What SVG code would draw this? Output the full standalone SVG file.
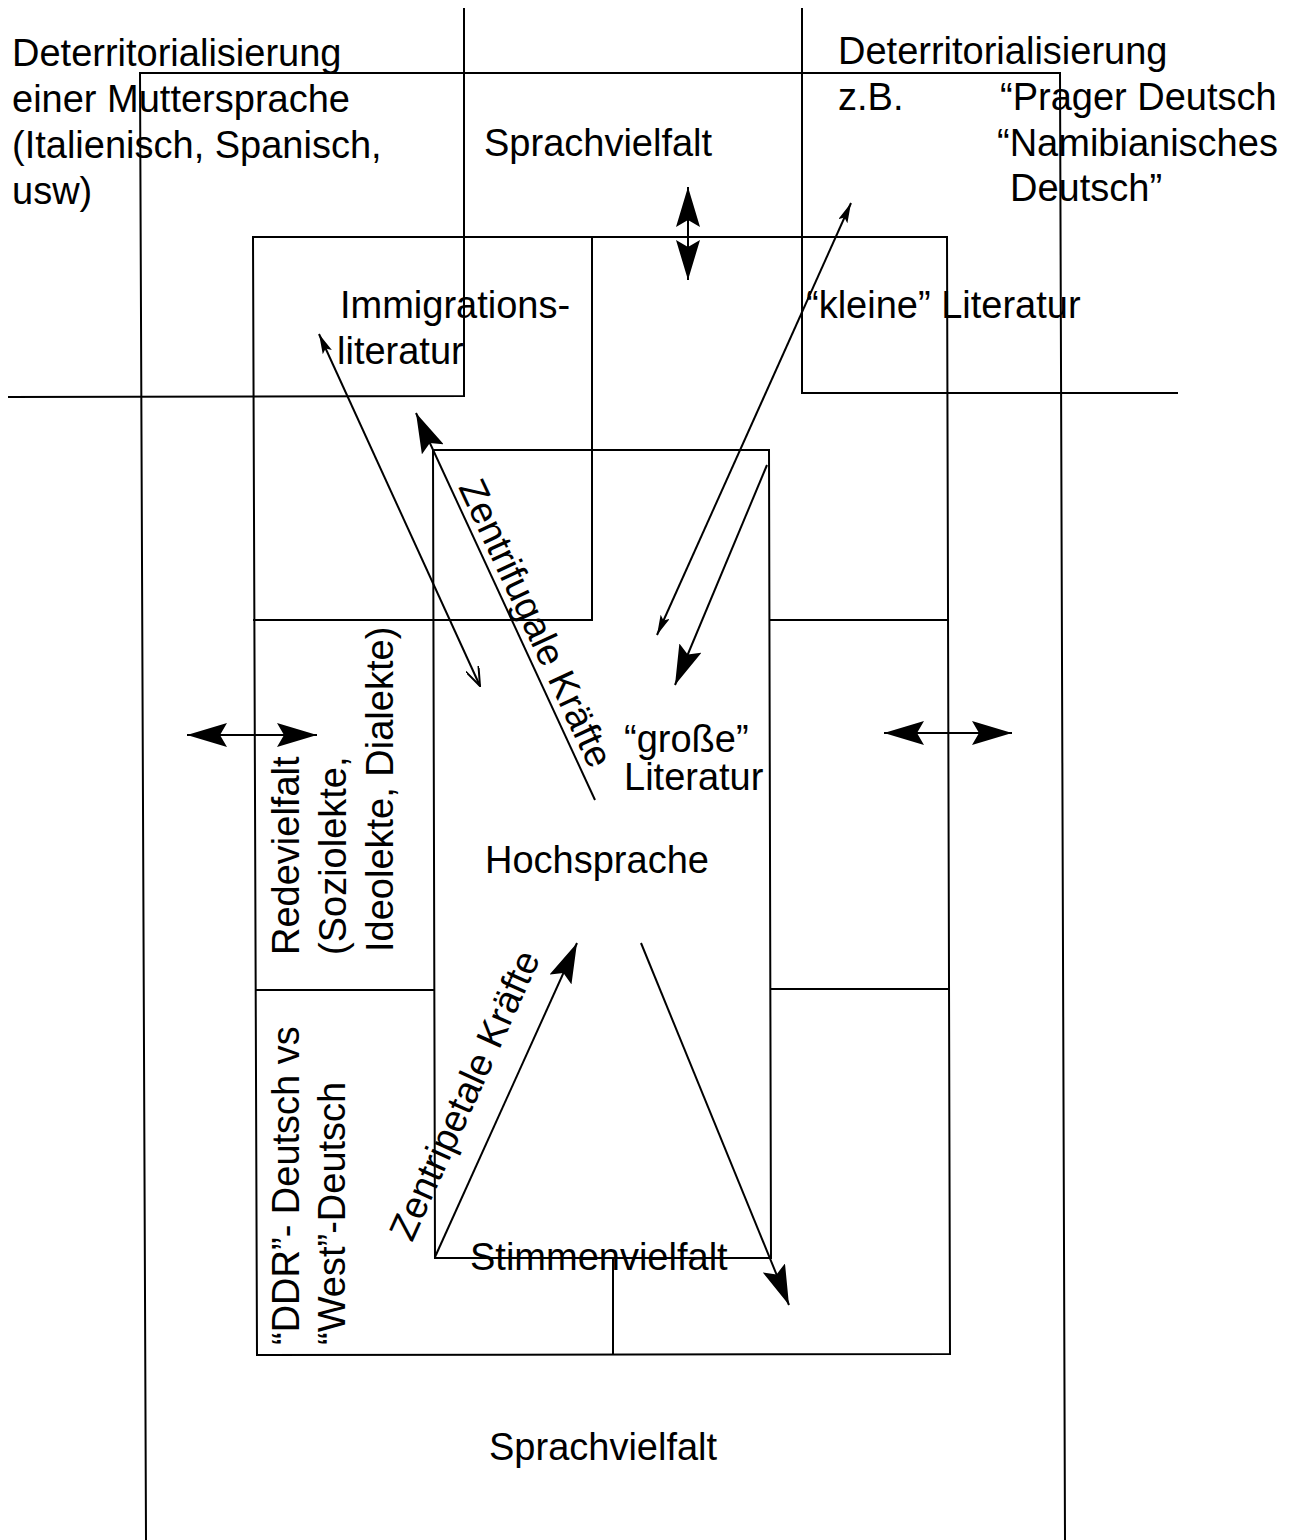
<svg xmlns="http://www.w3.org/2000/svg" width="1297" height="1540" viewBox="0 0 1297 1540">
<defs>
<style>
.ln{fill:none;stroke:#000;stroke-width:2}
.ar{fill:none;stroke:#000;stroke-width:2}
.t{font-family:"Liberation Sans",Arial,Helvetica,sans-serif;font-size:38px;fill:#000}
</style>
<marker id="big" viewBox="0 0 40 24" refX="40" refY="12" markerWidth="40" markerHeight="24" markerUnits="userSpaceOnUse" orient="auto-start-reverse"><path d="M40,12 L0,0 L7,12 L0,24 Z" fill="#000"/></marker>
<marker id="sm" viewBox="0 0 20 10" refX="20" refY="5" markerWidth="20" markerHeight="10" markerUnits="userSpaceOnUse" orient="auto-start-reverse"><path d="M20,5 L0,0 L4,5 L0,10 Z" fill="#000"/></marker>
<marker id="open" viewBox="0 0 20 14" refX="19" refY="7" markerWidth="20" markerHeight="14" markerUnits="userSpaceOnUse" orient="auto"><path d="M0,0 L19,7 L0,14" fill="none" stroke="#000" stroke-width="2"/></marker>
</defs>
<rect width="1297" height="1540" fill="#fff"/>
<g id="frames">
<path class="ln" d="M146,1540 L140,73 L1060,73 L1065,1540"/>
<path class="ln" d="M464,8 L464,396 L8,397"/>
<path class="ln" d="M802,8 L802,393 L1178,393"/>
<path class="ln" d="M253,237 L947,237 L950,1354 L257,1355 Z"/>
<path class="ln" d="M592,237 L592,620 L253,620"/>
<path class="ln" d="M770,620 L948,620"/>
<path class="ln" d="M256,990 L434,990"/>
<path class="ln" d="M771,989 L949,989"/>
<path class="ln" d="M433,450 L769,450 L771,1258 L435,1258 Z"/>
<path class="ln" d="M613,1258 L613,1355"/>
</g>
<g id="connectors">
<line class="ar" x1="319" y1="334" x2="480" y2="686" marker-start="url(#sm)" marker-end="url(#open)"/>
<line class="ar" x1="595" y1="800" x2="416" y2="413" marker-end="url(#big)"/>
<line class="ar" x1="851" y1="203" x2="657" y2="635" marker-start="url(#sm)" marker-end="url(#sm)"/>
<line class="ar" x1="767" y1="465" x2="675" y2="685" marker-end="url(#big)"/>
<line class="ar" x1="688" y1="187" x2="688" y2="280" marker-start="url(#big)" marker-end="url(#big)"/>
<line class="ar" x1="187" y1="735" x2="317" y2="735" marker-start="url(#big)" marker-end="url(#big)"/>
<line class="ar" x1="884" y1="733" x2="1012" y2="733" marker-start="url(#big)" marker-end="url(#big)"/>
<line class="ar" x1="435" y1="1257" x2="577" y2="943" marker-end="url(#big)"/>
<line class="ar" x1="641" y1="943" x2="789" y2="1305" marker-end="url(#big)"/>
</g>
<g id="deterr-left">
<text class="t" x="12" y="66">Deterritorialisierung</text>
<text class="t" x="12" y="112">einer Muttersprache</text>
<text class="t" x="12" y="158">(Italienisch, Spanisch,</text>
<text class="t" x="12" y="204">usw)</text>
</g>
<g id="deterr-right">
<text class="t" x="838" y="64">Deterritorialisierung</text>
<text class="t" x="838" y="110">z.B.</text>
<text class="t" x="1000" y="110">“Prager Deutsch</text>
<text class="t" x="997" y="156">“Namibianisches</text>
<text class="t" x="1010" y="201">Deutsch”</text>
</g>
<g id="sprachvielfalt-top"><text class="t" x="484" y="156">Sprachvielfalt</text></g>
<g id="immigration"><text class="t" x="340" y="318">Immigrations-</text><text class="t" x="337" y="364">literatur</text></g>
<g id="kleine"><text class="t" x="806" y="318">“kleine” Literatur</text></g>
<g id="grosse"><text class="t" x="624" y="752">“große”</text><text class="t" x="624" y="790">Literatur</text></g>
<g id="hochsprache"><text class="t" x="485" y="873">Hochsprache</text></g>
<g id="zentrifugal"><text class="t" transform="translate(458,487) rotate(65)">Zentrifugale Kräfte</text></g>
<g id="zentripetal"><text class="t" transform="translate(412,1243) rotate(-65.7)">Zentripetale Kräfte</text></g>
<g id="stimmenvielfalt"><text class="t" x="470" y="1270">Stimmenvielfalt</text></g>
<g id="redevielfalt">
<text class="t" transform="translate(299,955) rotate(-90)">Redevielfalt</text>
<text class="t" transform="translate(346,955) rotate(-90)">(Soziolekte,</text>
<text class="t" transform="translate(393,952) rotate(-90)">Ideolekte, Dialekte)</text>
</g>
<g id="ddr-west">
<text class="t" transform="translate(299,1345) rotate(-90)">“DDR”- Deutsch vs</text>
<text class="t" transform="translate(345,1345) rotate(-90)">“West”-Deutsch</text>
</g>
<g id="sprachvielfalt-bottom"><text class="t" x="489" y="1460">Sprachvielfalt</text></g>
</svg>
